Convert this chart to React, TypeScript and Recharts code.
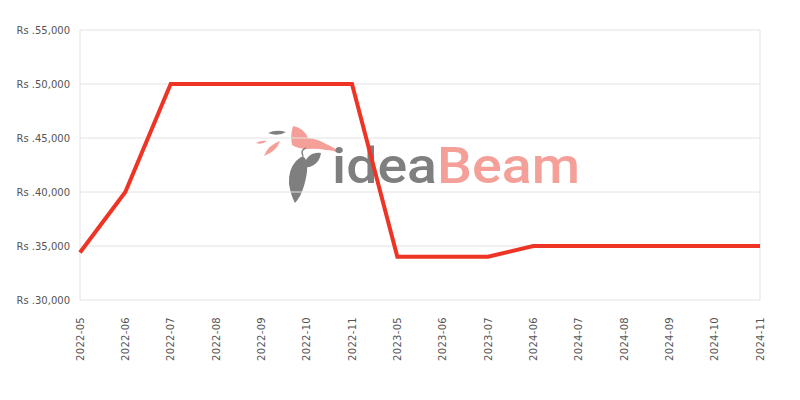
import React from "react";
import { CartesianGrid, Line, LineChart, ReferenceLine, XAxis, YAxis } from "recharts";

const months = [
  "2022-05", "2022-06", "2022-07", "2022-08", "2022-09", "2022-10", "2022-11",
  "2023-05", "2023-06", "2023-07",
  "2024-06", "2024-07", "2024-08", "2024-09", "2024-10", "2024-11",
];
const prices = [
  34400, 40000, 50000, 50000, 50000, 50000, 50000,
  34000, 34000, 34000,
  35000, 35000, 35000, 35000, 35000, 35000,
];
const yTicks = [30000, 35000, 40000, 45000, 50000, 55000];

const data = months.map((m, i) => ({ month: m, price: prices[i] }));

const FONT = "'DejaVu Sans', Verdana, sans-serif";
const LABEL = "#555";
const GRID = "#e2e2e2";
const LOGO_GRAY = "#7f7f7f";
const LOGO_PINK = "#f4a099";

function fmtRs(v: number) {
  return `Rs .${v.toLocaleString("en-US")}`;
}

function MonthTick(props: any) {
  const { x, y, payload } = props;
  return (
    <text
      x={x}
      y={y}
      transform={`rotate(-90, ${x}, ${y})`}
      textAnchor="end"
      dy="0.35em"
      fontSize={10}
      fontFamily={FONT}
      fill={LABEL}
      letterSpacing={0.3}
    >
      {payload.value}
    </text>
  );
}

// faint logo behind the plot
function Watermark() {
  return (
    <svg width={800} height={400} style={{ position: "absolute", left: 0, top: 0 }}>
      {/* leaves */}
      <path d="M268 133 Q276 129 286 132 Q278 137 268 133 Z" fill={LOGO_GRAY} />
      <path d="M256 143 Q261 140 267 141 Q262 145 256 143 Z" fill={LOGO_PINK} />
      <path d="M264 156 Q268 145 280 141 Q277 151 264 156 Z" fill={LOGO_PINK} />
      {/* bird */}
      <path
        d="M293 126 Q304 128 308 138 Q318 139 326 144 Q334 147 340 153 Q332 150 326 150 Q316 148 308 149 Q298 149 292 145 Q290 136 293 126 Z"
        fill={LOGO_PINK}
      />
      {/* wing */}
      <path d="M305 167 Q304 158 312 154 Q318 152 321 153 Q320 162 312 166 Q308 168 305 167 Z" fill={LOGO_GRAY} />
      {/* feather */}
      <path
        d="M303 156 Q308 160 307 172 Q305 186 300 196 Q297 201 295 203 Q291 196 289 184 Q288 170 296 161 Q299 158 303 156 Z"
        fill={LOGO_GRAY}
      />
      <path d="M303 156 Q300 150 306 148" stroke={LOGO_GRAY} strokeWidth={1.5} fill="none" />
      <text
        x={332}
        y={183}
        fontSize={50}
        fontWeight={500}
        fontFamily="Roboto, 'DejaVu Sans', sans-serif"
        textLength={248}
        lengthAdjust="spacingAndGlyphs"
      >
        <tspan fill={LOGO_GRAY}>idea</tspan>
        <tspan fill={LOGO_PINK}>Beam</tspan>
      </text>
    </svg>
  );
}

export default function App() {
  return (
    <div style={{ position: "absolute", left: 0, top: 0, width: 800, height: 400, background: "#fff" }}>
      <Watermark />
      <div style={{ position: "absolute", left: 0, top: 0 }}>
        <LineChart width={800} height={400} data={data} margin={{ top: 30, right: 40, bottom: 0, left: 0 }}>
          <CartesianGrid vertical={false} stroke={GRID} />
          <ReferenceLine x={months[0]} stroke={GRID} />
          <ReferenceLine x={months[months.length - 1]} stroke={GRID} />
          <XAxis
            dataKey="month"
            interval={0}
            height={100}
            tickLine={false}
            axisLine={false}
            tickMargin={11}
            tick={<MonthTick />}
          />
          <YAxis
            width={80}
            domain={[30000, 55000]}
            ticks={yTicks}
            tickFormatter={fmtRs}
            tickLine={false}
            axisLine={false}
            tickMargin={4}
            tick={{ fontSize: 10, fontFamily: FONT, fill: LABEL }}
          />
          <Line
            type="linear"
            dataKey="price"
            stroke="#ee3424"
            strokeWidth={4}
            strokeLinejoin="miter"
            strokeLinecap="butt"
            dot={false}
            isAnimationActive={false}
          />
        </LineChart>
      </div>
    </div>
  );
}
